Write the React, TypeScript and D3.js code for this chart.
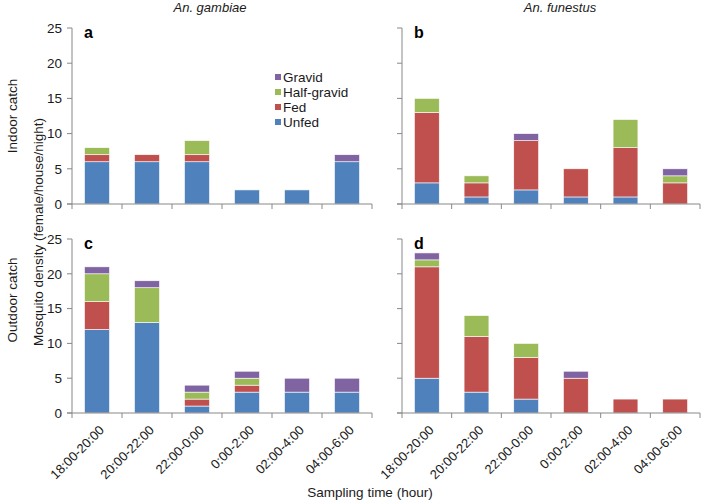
import React, { useEffect, useRef } from "react";
import * as d3 from "d3";

// sampling slots (x categories)
const slots = ["18:00-20:00", "20:00-22:00", "22:00-0:00", "0:00-2:00", "02:00-4:00", "04:00-6:00"];
const stages = ["Unfed", "Fed", "Half-gravid", "Gravid"];
const stageColors = ["#4F81BD", "#C0504D", "#9BBB59", "#8064A2"];
const yTicks = [0, 5, 10, 15, 20, 25];

// values per slot: [unfed, fed, half-gravid, gravid]
const gambiaeIndoor = [[6, 1, 1, 0], [6, 1, 0, 0], [6, 1, 2, 0], [2, 0, 0, 0], [2, 0, 0, 0], [6, 0, 0, 1]];
const funestusIndoor = [[3, 10, 2, 0], [1, 2, 1, 0], [2, 7, 0, 1], [1, 4, 0, 0], [1, 7, 4, 0], [0, 3, 1, 1]];
const gambiaeOutdoor = [[12, 4, 4, 1], [13, 0, 5, 1], [1, 1, 1, 1], [3, 1, 1, 1], [3, 0, 0, 2], [3, 0, 0, 2]];
const funestusOutdoor = [[5, 16, 1, 1], [3, 8, 3, 0], [2, 6, 2, 0], [0, 5, 0, 1], [0, 2, 0, 0], [0, 2, 0, 0]];

const W = 710, H = 502;
const FONT = "'Liberation Sans', Arial, sans-serif";
const axisColor = "#888";
const textColor = "#1a1a1a";

export default function App() {
    const ref = useRef<SVGSVGElement>(null);

    useEffect(() => {
        const svg = d3.select(ref.current);
        svg.selectAll("*").remove();

        const panels = [
            { data: gambiaeIndoor, x0: 72, x1: 372, top: 28, bottom: 204, label: "a", yLabels: true, legend: true },
            { data: funestusIndoor, x0: 402, x1: 700, top: 28, bottom: 204, label: "b", yLabels: false, legend: false },
            { data: gambiaeOutdoor, x0: 72, x1: 372, top: 239, bottom: 413, label: "c", yLabels: true, legend: false, xLabels: true },
            { data: funestusOutdoor, x0: 402, x1: 700, top: 239, bottom: 413, label: "d", yLabels: false, legend: false, xLabels: true },
        ];

        panels.forEach(p => {
            const g = svg.append("g");
            const x = d3.scaleBand().domain(slots).range([p.x0, p.x1]).paddingInner(0.5).paddingOuter(0.25);
            const y = d3.scaleLinear().domain([0, 25]).range([p.bottom, p.top]);

            const rows = p.data.map((v, i) => {
                const r: any = { slot: slots[i] };
                stages.forEach((s, j) => (r[s] = v[j]));
                return r;
            });
            const series = d3.stack().keys(stages)(rows);

            g.selectAll(".layer")
                .data(series)
                .enter().append("g")
                .attr("fill", (d, i) => stageColors[i])
                .selectAll("rect")
                .data(d => d.filter(s => s[1] - s[0] > 0))
                .enter().append("rect")
                .attr("x", d => x((d as any).data.slot)!)
                .attr("width", x.bandwidth())
                .attr("y", d => y(d[1]))
                .attr("height", d => y(d[0]) - y(d[1]))
                .attr("stroke", "#fff")
                .attr("stroke-width", 0.6);

            // y axis
            g.append("line").attr("x1", p.x0).attr("x2", p.x0).attr("y1", p.top).attr("y2", p.bottom)
                .attr("stroke", axisColor);
            g.selectAll(".yt").data(yTicks).enter().append("line")
                .attr("x1", p.x0 - 5).attr("x2", p.x0).attr("y1", d => y(d)).attr("y2", d => y(d))
                .attr("stroke", axisColor);
            if (p.yLabels) {
                g.selectAll(".yl").data(yTicks).enter().append("text")
                    .attr("x", p.x0 - 10).attr("y", d => y(d)).attr("dy", "0.35em")
                    .attr("text-anchor", "end").attr("font-size", 13.5).attr("font-family", FONT)
                    .attr("fill", textColor)
                    .text(d => d);
            }

            // x axis
            g.append("line").attr("x1", p.x0 - 5).attr("x2", p.x1).attr("y1", p.bottom).attr("y2", p.bottom)
                .attr("stroke", axisColor);
            g.selectAll(".xt").data(d3.range(slots.length + 1)).enter().append("line")
                .attr("x1", i => p.x0 + i * (p.x1 - p.x0) / slots.length)
                .attr("x2", i => p.x0 + i * (p.x1 - p.x0) / slots.length)
                .attr("y1", p.bottom).attr("y2", p.bottom + 5)
                .attr("stroke", axisColor);
            if (p.xLabels) {
                g.selectAll(".xl").data(slots).enter().append("text")
                    .attr("transform", d => `translate(${x(d)! + x.bandwidth() / 2 + 1},${p.bottom + 11}) rotate(-45)`)
                    .attr("text-anchor", "end").attr("dy", "0.75em")
                    .attr("font-size", 13).attr("font-family", FONT).attr("fill", textColor)
                    .text(d => d);
            }

            g.append("text").attr("x", p.x0 + 12).attr("y", p.top + 10)
                .attr("font-size", 16).attr("font-weight", "bold").attr("font-family", FONT)
                .text(p.label);

            if (p.legend) {
                const lg = g.append("g").attr("transform", "translate(275,77)");
                const order = [3, 2, 1, 0];
                order.forEach((k, i) => {
                    lg.append("rect").attr("x", 0).attr("y", i * 15 - 3).attr("width", 6).attr("height", 6)
                        .attr("fill", stageColors[k]);
                    lg.append("text").attr("x", 8).attr("y", i * 15).attr("dy", "0.35em")
                        .attr("font-size", 13.5).attr("font-family", FONT).attr("fill", textColor)
                        .text(stages[k]);
                });
            }
        });

        // titles
        svg.append("text").attr("x", 210).attr("y", 12).attr("text-anchor", "middle")
            .attr("font-size", 13).attr("font-style", "italic").attr("font-family", FONT).attr("fill", textColor)
            .text("An. gambiae");
        svg.append("text").attr("x", 560).attr("y", 12).attr("text-anchor", "middle")
            .attr("font-size", 13).attr("font-style", "italic").attr("font-family", FONT).attr("fill", textColor)
            .text("An. funestus");

        const vLabel = (txt: string, cx: number, cy: number) =>
            svg.append("text").attr("transform", `translate(${cx},${cy}) rotate(-90)`)
                .attr("text-anchor", "middle").attr("dy", "0.35em")
                .attr("font-size", 13.5).attr("font-family", FONT).attr("fill", textColor).text(txt);
        vLabel("Indoor catch", 12, 116);
        vLabel("Outdoor catch", 12, 300);
        vLabel("Mosquito density (female/house/night)", 38, 232);

        svg.append("text").attr("x", 370).attr("y", 497).attr("text-anchor", "middle")
            .attr("font-size", 13.5).attr("font-family", FONT).attr("fill", textColor).text("Sampling time (hour)");
    }, []);

    return (
        <svg ref={ref} width={W} height={H}
            style={{ position: "absolute", left: 0, top: 0, background: "#fff" }} />
    );
}
